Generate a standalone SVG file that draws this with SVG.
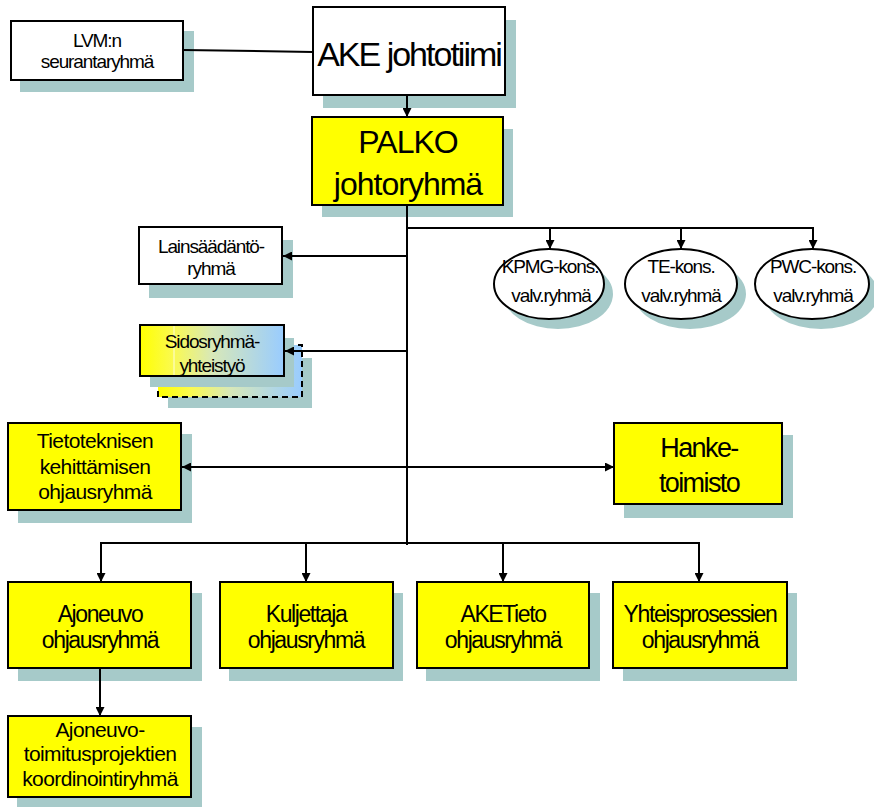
<svg xmlns="http://www.w3.org/2000/svg" width="874" height="808" viewBox="0 0 874 808">
<style>
.sh{fill:#A6CAC9}
.bx{stroke:#000;stroke-width:2}
.y{fill:#FFFF00}
.w{fill:#FFFFFF}
.t{font-family:"Liberation Sans",Arial,sans-serif;text-anchor:middle;fill:#000}
.s19{font-size:19px;letter-spacing:-1.1px}
.s21{font-size:21px;letter-spacing:-0.6px}
.s23{font-size:23px;letter-spacing:-1.4px}
.c{stroke:#000;stroke-width:2;fill:none}
</style>
<defs>
<marker id="ah" viewBox="0 0 10 10" refX="10" refY="5" markerWidth="4.5" markerHeight="4.5" orient="auto-start-reverse" markerUnits="strokeWidth">
<path d="M0,0 L10,5 L0,10 Z" fill="#000"/>
</marker>
<linearGradient id="grad" x1="0" y1="0" x2="1" y2="0">
<stop offset="0" stop-color="#FFFF00"/>
<stop offset="0.23" stop-color="#FAFA50"/>
<stop offset="0.5" stop-color="#D8E8B8"/>
<stop offset="1" stop-color="#99CCFF"/>
</linearGradient>
</defs>

<g id="lvm">
<rect class="sh" x="20" y="31" width="174" height="61"/>
<rect class="bx w" x="11" y="21" width="172" height="59"/>
<text class="t s19" x="97" y="47">LVM:n</text>
<text class="t s19" x="97" y="68">seurantaryhmä</text>
</g>

<g id="ake">
<rect class="sh" x="323" y="20" width="193" height="88"/>
<rect class="bx w" x="313" y="7" width="192" height="88"/>
<text class="t" x="409" y="66" font-size="34" letter-spacing="-2">AKE johtotiimi</text>
</g>

<g id="palko">
<rect class="sh" x="322" y="129" width="191" height="88"/>
<rect class="bx y" x="312" y="117" width="191" height="88"/>
<text class="t" x="408" y="153" font-size="32" letter-spacing="-1">PALKO</text>
<text class="t" x="408" y="195" font-size="32" letter-spacing="-1">johtoryhmä</text>
</g>

<g id="lainsaadanto">
<rect class="sh" x="149" y="240" width="144" height="58"/>
<rect class="bx w" x="139" y="227" width="143" height="57"/>
<text class="t s19" x="211" y="253">Lainsäädäntö-</text>
<text class="t s19" x="211" y="275">ryhmä</text>
</g>

<g id="sidosryhma">
<rect class="sh" x="168" y="358" width="144" height="50"/>
<rect x="158" y="345" width="144" height="52" fill="url(#grad)" stroke="#000" stroke-width="2" stroke-dasharray="6,4"/>
<rect class="sh" x="150" y="338" width="144" height="49"/>
<rect class="bx" x="140" y="325" width="144" height="51" fill="url(#grad)"/>
<line x1="174" y1="326" x2="174" y2="375" stroke="#FFFFFF" stroke-width="1" opacity="0.8"/>
<text class="t s19" x="212" y="348">Sidosryhmä-</text>
<text class="t s19" x="212" y="372">yhteistyö</text>
</g>

<g id="kpmg">
<ellipse class="sh" cx="558" cy="294" rx="55" ry="35"/>
<ellipse class="bx w" cx="549" cy="284" rx="55" ry="35"/>
<text class="t s19" x="550" y="273">KPMG-kons.</text>
<text class="t s19" x="551" y="302">valv.ryhmä</text>
</g>

<g id="te">
<ellipse class="sh" cx="690" cy="294" rx="56" ry="35"/>
<ellipse class="bx w" cx="681" cy="284" rx="56" ry="35"/>
<text class="t s19" x="681" y="273">TE-kons.</text>
<text class="t s19" x="681" y="302">valv.ryhmä</text>
</g>

<g id="pwc">
<ellipse class="sh" cx="821" cy="294" rx="57" ry="35"/>
<ellipse class="bx w" cx="812" cy="284" rx="57" ry="35"/>
<text class="t s19" x="813" y="273">PWC-kons.</text>
<text class="t s19" x="813" y="302">valv.ryhmä</text>
</g>

<g id="tietotekninen">
<rect class="sh" x="18" y="434" width="174" height="89"/>
<rect class="bx y" x="8" y="423" width="173" height="87"/>
<text class="t s21" x="95" y="448">Tietoteknisen</text>
<text class="t s21" x="95" y="474">kehittämisen</text>
<text class="t s21" x="95" y="499">ohjausryhmä</text>
</g>

<g id="hanketoimisto">
<rect class="sh" x="624" y="435" width="169" height="83"/>
<rect class="bx y" x="614" y="423" width="168" height="81"/>
<text class="t" x="699" y="457" font-size="27" letter-spacing="-1.6">Hanke-</text>
<text class="t" x="699" y="492" font-size="27" letter-spacing="-1.6">toimisto</text>
</g>

<g id="ajoneuvo">
<rect class="sh" x="18" y="593" width="184" height="88"/>
<rect class="bx y" x="8" y="582" width="183" height="86"/>
<text class="t s23" x="100" y="622">Ajoneuvo</text>
<text class="t s23" x="100" y="648">ohjausryhmä</text>
</g>

<g id="kuljettaja">
<rect class="sh" x="229" y="593" width="174" height="88"/>
<rect class="bx y" x="220" y="582" width="173" height="86"/>
<text class="t s23" x="306" y="622">Kuljettaja</text>
<text class="t s23" x="306" y="648">ohjausryhmä</text>
</g>

<g id="aketieto">
<rect class="sh" x="426" y="593" width="174" height="88"/>
<rect class="bx y" x="417" y="582" width="172" height="86"/>
<text class="t s23" x="503" y="622">AKETieto</text>
<text class="t s23" x="503" y="648">ohjausryhmä</text>
</g>

<g id="yhteisprosessit">
<rect class="sh" x="623" y="593" width="174" height="88"/>
<rect class="bx y" x="613" y="582" width="174" height="86"/>
<text class="t s23" x="700" y="622">Yhteisprosessien</text>
<text class="t s23" x="700" y="648">ohjausryhmä</text>
</g>

<g id="toimitusprojektit">
<rect class="sh" x="17" y="727" width="185" height="80"/>
<rect class="bx y" x="8" y="716" width="183" height="81"/>
<text class="t s21" x="100" y="737" letter-spacing="-0.3">Ajoneuvo-</text>
<text class="t s21" x="100" y="761" letter-spacing="-0.3">toimitusprojektien</text>
<text class="t s21" x="100" y="786" letter-spacing="-0.3">koordinointiryhmä</text>
</g>

<g id="connectors">
<line class="c" x1="183" y1="50" x2="313" y2="52"/>
<line class="c" x1="407" y1="96" x2="407" y2="117" marker-end="url(#ah)"/>
<line class="c" x1="407" y1="206" x2="407" y2="545" stroke-width="3"/>
<polyline class="c" points="407,228 813,228"/>
<line class="c" x1="550" y1="228" x2="550" y2="249" marker-end="url(#ah)"/>
<line class="c" x1="681" y1="228" x2="681" y2="249" marker-end="url(#ah)"/>
<line class="c" x1="813" y1="227" x2="813" y2="249" marker-end="url(#ah)"/>
<line class="c" x1="407" y1="256" x2="283" y2="256" marker-end="url(#ah)"/>
<line class="c" x1="407" y1="351" x2="285" y2="351" marker-end="url(#ah)"/>
<line class="c" x1="182" y1="467" x2="614" y2="467" marker-start="url(#ah)" marker-end="url(#ah)"/>
<polyline class="c" points="101,543 699,543"/>
<line class="c" x1="101" y1="542" x2="101" y2="582" marker-end="url(#ah)"/>
<line class="c" x1="306" y1="542" x2="306" y2="582" marker-end="url(#ah)"/>
<line class="c" x1="503" y1="542" x2="503" y2="582" marker-end="url(#ah)"/>
<line class="c" x1="699" y1="542" x2="699" y2="582" marker-end="url(#ah)"/>
<line class="c" x1="100" y1="669" x2="100" y2="716" marker-end="url(#ah)"/>
</g>
</svg>
